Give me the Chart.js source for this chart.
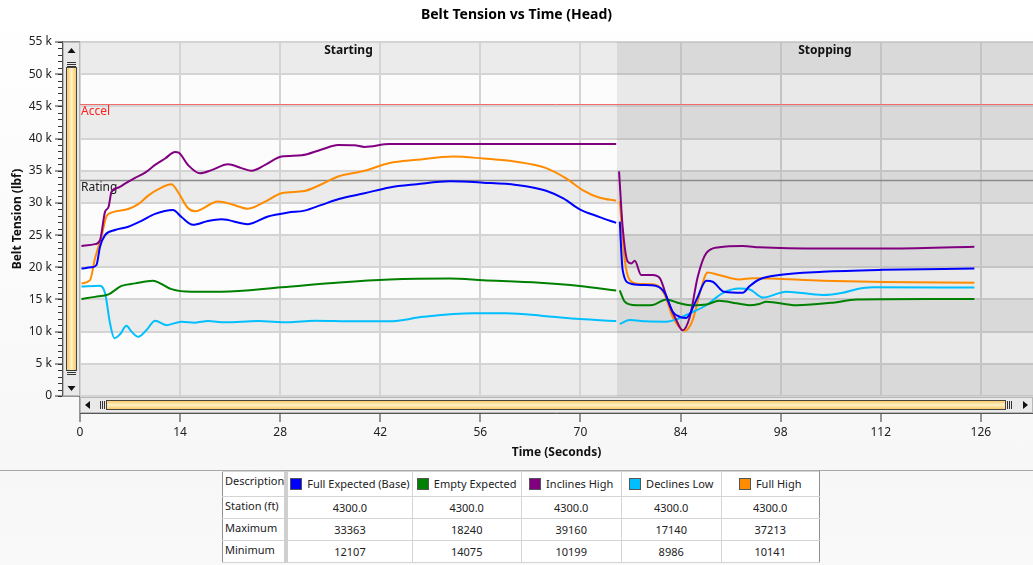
<!DOCTYPE html>
<html>
<head>
<meta charset="utf-8">
<script src="https://cdn.jsdelivr.net/npm/chart.js@4.4.1/dist/chart.umd.min.js"></script>
<style>
  body { margin: 0; background: #f9f9f9; font-family: "Noto Sans", sans-serif; }
  #wrap { position: relative; width: 1033px; height: 565px; overflow: hidden;
          background: linear-gradient(#ffffff, #f7f7f7 470px, #f9f9f9); }
  #chartBelt { position: absolute; left: 0; top: 0; }
  #sep { position: absolute; left: 0; top: 470px; width: 1033px; height: 1px; background: #a8a8a8; }
  #stats { position: absolute; left: 222px; top: 471px; border-collapse: collapse; table-layout: fixed;
           font-size: 11px; line-height: 14px; color: #222; background: #fff; }
  #stats td { border: 1px solid #d4d4d4; text-align: center; padding: 0; height: 21px; white-space: nowrap; overflow: hidden; }
  #stats tr:first-child td { height: 24px; }
  #stats td.desc { text-align: left; vertical-align: top; padding: 2px 0 0 2px; height: 19px; border-right: 4px solid #cfcfcf; border-left: 1px solid #909090; }
  #stats tr:first-child td.desc { height: 22px; }
  #stats td.last { border-right: 1px solid #909090; }
  .sw { display: inline-block; width: 10px; height: 10px; border: 1px solid #555; margin-right: 5px; vertical-align: -2px; }
</style>
</head>
<body>
<div id="wrap">
  <canvas id="chartBelt" width="1033" height="470"></canvas>
  <div id="sep"></div>
  <table id="stats"></table>
</div>
<script>
// datos (tiempo en s, tensión en lbf)
const seriesNames = ["Full Expected (Base)", "Empty Expected", "Inclines High", "Declines Low", "Full High"];
const seriesColors = ["#0000ff", "#008000", "#800080", "#00bfff", "#ff8c00"];

const fullExpectedTime = [0.2, 1.6, 2.3, 2.8, 3.5, 4.9, 6.75, 8.6, 10.5, 13.0, 14.2, 15.8, 17.9, 19.8, 23.5, 26.3, 29.1, 31.4, 33.8, 36.2, 39.8, 43.3, 47.1, 51.7, 56.4, 61.0, 65.2, 67.6, 69.9, 72.7, 75.0,
  75.25,
  75.5, 75.9, 76.9, 78.7, 80.6, 81.8, 82.9, 83.9, 84.8, 86.2, 87.6, 88.5, 90.1, 92.7, 93.6, 95.0, 97.8, 103.9, 112.3, 125.1];
const fullExpectedTension = [19800, 20000, 20350, 23200, 25000, 25800, 26300, 27200, 28300, 28900, 27800, 26600, 27200, 27450, 26700, 27900, 28500, 28800, 29700, 30600, 31500, 32400, 32900, 33363, 33150, 32800, 31900, 30700, 29000, 27800, 26900,
  null,
  27100, 19600, 17500, 17250, 17100, 16000, 13100, 12300, 12107, 14900, 17900, 17750, 16200, 16050, 17000, 18100, 18800, 19300, 19600, 19800];

const emptyExpectedTime = [0.2, 2.1, 4.0, 5.8, 7.7, 10.2, 11.4, 12.8, 15.6, 19.8, 28.2, 36.3, 43.3, 51.7, 56.4, 64.3, 69.9, 75.0,
  75.25,
  75.5, 76.2, 77.8, 80.1, 82.0, 83.9, 85.7, 87.6, 89.4, 91.8, 93.6, 95.0, 96.0, 100.2, 105.3, 108.6, 112.3, 125.1];
const emptyExpectedTension = [15070, 15400, 15800, 17100, 17500, 17900, 17400, 16600, 16200, 16200, 16900, 17650, 18100, 18240, 18000, 17600, 17100, 16400,
  null,
  16400, 14650, 14100, 14150, 15000, 14400, 14075, 14200, 14800, 14400, 14100, 14300, 14650, 14100, 14500, 15000, 15050, 15070];

const inclinesHighTime = [0.2, 2.1, 2.8, 3.5, 4.0, 4.4, 5.4, 6.3, 7.7, 9.1, 10.5, 11.9, 13.3, 13.8, 15.1, 16.8, 18.4, 20.7, 22.6, 24.0, 25.9, 28.2, 31.0, 33.8, 36.1, 38.4, 39.8, 43.3, 50.3, 60.0, 75.0,
  75.2,
  75.4, 75.9, 76.6, 77.1, 77.6, 78.5, 80.1, 81.1, 82.2, 83.4, 84.3, 85.3, 86.4, 87.6, 89.4, 92.7, 95.0, 103.9, 112.3, 125.1];
const inclinesHighTension = [23300, 23600, 24200, 28600, 29400, 31700, 32400, 33000, 33900, 34700, 35900, 36900, 37900, 37800, 35900, 34600, 35100, 36000, 35400, 35000, 35900, 37200, 37400, 38300, 39000, 38950, 38700, 39150, 39150, 39160, 39160,
  null,
  34900, 26300, 20900, 20600, 21000, 18800, 18800, 18300, 14900, 11800, 10199, 12300, 18500, 22200, 23100, 23300, 23100, 22900, 22900, 23200];

const declinesLowTime = [0.2, 2.8, 3.5, 4.2, 4.8, 5.6, 6.5, 7.2, 8.15, 9.3, 10.5, 12.1, 14.2, 16.1, 17.9, 20.3, 24.9, 29.1, 32.8, 38.4, 43.3, 48.0, 55.0, 59.6, 65.2, 69.9, 75.0,
  75.25,
  75.5, 76.9, 79.2, 82.0, 83.4, 85.3, 87.6, 89.9, 92.2, 93.6, 95.5, 98.8, 103.9, 106.7, 108.6, 110.9, 125.1];
const declinesLowTension = [17000, 17140, 16000, 11300, 8986, 9600, 10900, 10000, 9200, 10250, 11700, 11000, 11550, 11400, 11650, 11450, 11650, 11450, 11700, 11600, 11600, 12300, 12850, 12850, 12400, 11950, 11650,
  null,
  11200, 11800, 11600, 11550, 11900, 12850, 14100, 16000, 16700, 16600, 15300, 16200, 15700, 16050, 16600, 16900, 16850];

const fullHighTime = [0.2, 1.4, 2.1, 3.0, 3.7, 4.4, 6.75, 8.15, 9.5, 10.9, 12.8, 13.7, 15.1, 16.1, 19.3, 21.2, 23.5, 25.9, 28.2, 31.4, 33.8, 36.1, 39.8, 43.3, 47.1, 52.2, 56.4, 61.0, 65.2, 68.0, 70.3, 72.7, 75.0,
  75.25,
  75.5, 76.2, 76.9, 78.3, 80.6, 81.8, 82.9, 84.6, 85.7, 86.7, 87.8, 89.4, 92.2, 94.1, 103.9, 112.3, 125.1];
const fullHighTension = [17500, 18000, 21400, 24750, 27900, 28500, 29050, 29800, 31100, 32100, 32900, 31700, 29200, 28700, 30200, 29800, 29100, 30200, 31500, 31850, 32900, 34100, 35000, 36200, 36700, 37213, 36900, 36400, 35400, 33800, 32000, 30800, 30350,
  null,
  30300, 21100, 18000, 17400, 17250, 15700, 12300, 10141, 11800, 16000, 19200, 18800, 18100, 18300, 17900, 17700, 17600];

// líneas de referencia
const limitLabels = ["Accel", "Rating"];
const limitValues = [45300, 33550];
const limitColors = ["#f26b6b", "#8a8a8a"];
const limitTextColors = ["#ff2020", "#202020"];

// fases
const phaseLabels = ["Starting", "Stopping"];
const phaseBounds = [0, 75.1, 133.3];

// tabla
const rowLabels = ["Station (ft)", "Maximum", "Minimum"];
const stations = ["4300.0", "4300.0", "4300.0", "4300.0", "4300.0"];
const maxima = [33363, 18240, 39160, 17140, 37213];
const minima = [12107, 14075, 10199, 8986, 10141];

const xTicks = [0, 14, 28, 42, 56, 70, 84, 98, 112, 126];

Chart.defaults.font.family = '"Noto Sans", sans-serif';
Chart.defaults.font.size = 12;
Chart.defaults.color = "#222";

const allTimes = [fullExpectedTime, emptyExpectedTime, inclinesHighTime, declinesLowTime, fullHighTime];
const allTensions = [fullExpectedTension, emptyExpectedTension, inclinesHighTension, declinesLowTension, fullHighTension];

let datasets = seriesNames.map((name, i) => {
    return {
        label: name,
        data: allTimes[i].map((t, j) => ({x: t, y: allTensions[i][j]})),
        borderColor: seriesColors[i],
        backgroundColor: seriesColors[i],
        borderWidth: 2,
        pointRadius: 0,
        cubicInterpolationMode: "monotone",
        spanGaps: false,
    };
});

// fondo en bandas, líneas de referencia y barras de desplazamiento
const decor = {
    id: "decor",
    beforeDraw(chart) {
        const {ctx, chartArea: a, scales: {x, y}} = chart;
        ctx.save();
        for (let v = 0; v < 55000; v += 5000) {
            const top = y.getPixelForValue(v + 5000), bot = y.getPixelForValue(v);
            ctx.fillStyle = (v / 5000) % 2 === 0 ? "#ebebeb" : "#fcfcfc";
            ctx.fillRect(a.left, top, a.right - a.left, bot - top);
        }
        ctx.restore();
    },
    beforeDatasetsDraw(chart) {
        const {ctx, chartArea: a, scales: {x, y}} = chart;
        ctx.save();
        // sombreado de la fase de parada
        const xs = x.getPixelForValue(phaseBounds[1]);
        ctx.fillStyle = "rgba(0,0,0,0.075)";
        ctx.fillRect(xs, a.top, a.right - xs, a.bottom - a.top);
        // etiquetas de fase
        ctx.fillStyle = "#111";
        ctx.font = 'bold 12px "Noto Sans", sans-serif';
        ctx.textAlign = "center";
        ctx.textBaseline = "middle";
        phaseLabels.forEach((lab, i) => {
            const cx = (x.getPixelForValue(phaseBounds[i]) + Math.min(a.right, x.getPixelForValue(phaseBounds[i + 1]))) / 2;
            ctx.fillText(lab, cx, a.top + 8.5);
        });
        // Accel / Rating
        ctx.font = '12px "Noto Sans", sans-serif';
        ctx.textAlign = "left";
        limitValues.forEach((v, i) => {
            const py = Math.round(y.getPixelForValue(v)) + 0.5;
            ctx.strokeStyle = limitColors[i];
            ctx.lineWidth = i === 0 ? 1 : 1.5;
            ctx.beginPath();
            ctx.moveTo(a.left, py);
            ctx.lineTo(a.right, py);
            ctx.stroke();
            ctx.fillStyle = limitTextColors[i];
            ctx.fillText(limitLabels[i], a.left + 1, py + 7);
        });
        ctx.restore();
    },
    afterDraw(chart) {
        const {ctx, chartArea: a, scales: {x, y}} = chart;
        ctx.save();
        // marcas menores del eje y
        ctx.strokeStyle = "#333";
        ctx.lineWidth = 1;
        for (let v = 0; v <= 55000; v += 1000) {
            const py = Math.round(y.getPixelForValue(v)) + 0.5;
            ctx.beginPath();
            ctx.moveTo(58, py);
            ctx.lineTo(62, py);
            ctx.stroke();
        }
        // barra vertical
        const vx = 63, vw = a.left - 63;
        ctx.fillStyle = "#e9e9e9";
        ctx.fillRect(vx, a.top, vw, a.bottom - a.top);
        ctx.strokeStyle = "#b8b8b8";
        ctx.strokeRect(vx + 0.5, a.top + 0.5, vw - 1, a.bottom - a.top - 1);
        let g = ctx.createLinearGradient(vx + 3, 0, vx + vw - 3, 0);
        g.addColorStop(0, "#f6c14e");
        g.addColorStop(0.5, "#fff2c8");
        g.addColorStop(1, "#f6c14e");
        ctx.fillStyle = g;
        ctx.fillRect(vx + 4, a.top + 26, vw - 8, a.bottom - a.top - 52);
        ctx.strokeStyle = "#444";
        ctx.strokeRect(vx + 3.5, a.top + 25.5, vw - 7, a.bottom - a.top - 51);
        ctx.strokeStyle = "#333";
        for (let k = 0; k < 3; k++) {
            ctx.beginPath();
            ctx.moveTo(vx + 4, a.top + 20.5 + k * 2); ctx.lineTo(vx + vw - 4, a.top + 20.5 + k * 2);
            ctx.moveTo(vx + 4, a.bottom - 25.5 + k * 2); ctx.lineTo(vx + vw - 4, a.bottom - 25.5 + k * 2);
            ctx.stroke();
        }
        ctx.fillStyle = "#111";
        ctx.beginPath();
        ctx.moveTo(vx + vw / 2 - 4, a.top + 11); ctx.lineTo(vx + vw / 2 + 4, a.top + 11); ctx.lineTo(vx + vw / 2, a.top + 6); ctx.fill();
        ctx.beginPath();
        ctx.moveTo(vx + vw / 2 - 4, a.bottom - 10); ctx.lineTo(vx + vw / 2 + 4, a.bottom - 10); ctx.lineTo(vx + vw / 2, a.bottom - 5); ctx.fill();
        // barra horizontal
        const hy = a.bottom + 1, hh = 16;
        ctx.fillStyle = "#e9e9e9";
        ctx.fillRect(a.left, hy, a.right - a.left, hh);
        ctx.strokeStyle = "#b8b8b8";
        ctx.strokeRect(a.left + 0.5, hy + 0.5, a.right - a.left - 1, hh - 1);
        g = ctx.createLinearGradient(0, hy + 3, 0, hy + hh - 3);
        g.addColorStop(0, "#f6c14e");
        g.addColorStop(0.5, "#fff2c8");
        g.addColorStop(1, "#f6c14e");
        ctx.fillStyle = g;
        ctx.fillRect(a.left + 27, hy + 4, a.right - a.left - 55, hh - 8);
        ctx.strokeStyle = "#444";
        ctx.strokeRect(a.left + 26.5, hy + 3.5, a.right - a.left - 54, hh - 7);
        ctx.strokeStyle = "#333";
        for (let k = 0; k < 3; k++) {
            ctx.beginPath();
            ctx.moveTo(a.left + 20.5 + k * 2, hy + 4); ctx.lineTo(a.left + 20.5 + k * 2, hy + hh - 4);
            ctx.moveTo(a.right - 25.5 + k * 2, hy + 4); ctx.lineTo(a.right - 25.5 + k * 2, hy + hh - 4);
            ctx.stroke();
        }
        ctx.fillStyle = "#111";
        ctx.beginPath();
        ctx.moveTo(a.left + 10, hy + hh / 2 - 4); ctx.lineTo(a.left + 10, hy + hh / 2 + 4); ctx.lineTo(a.left + 5, hy + hh / 2); ctx.fill();
        ctx.beginPath();
        ctx.moveTo(a.right - 10, hy + hh / 2 - 4); ctx.lineTo(a.right - 10, hy + hh / 2 + 4); ctx.lineTo(a.right - 5, hy + hh / 2); ctx.fill();
        // líneas de ejes
        ctx.strokeStyle = "#555";
        ctx.lineWidth = 1;
        ctx.beginPath();
        ctx.moveTo(62.5, a.top - 1); ctx.lineTo(62.5, a.bottom);
        ctx.moveTo(a.left, hy + hh + 0.5); ctx.lineTo(a.right, hy + hh + 0.5);
        ctx.stroke();
        ctx.restore();
    }
};

new Chart(document.getElementById("chartBelt"), {
    type: "line",
    data: { datasets: datasets },
    plugins: [decor],
    options: {
        responsive: false,
        animation: false,
        layout: { padding: 0 },
        scales: {
            x: {
                type: "linear",
                min: 0,
                max: phaseBounds[2],
                afterFit: (s) => { s.height = 74; },
                afterBuildTicks: (s) => { s.ticks = xTicks.map((v) => ({value: v})); },
                ticks: { color: "#222", padding: 3, maxRotation: 0 },
                grid: { color: "#d4d4d4", lineWidth: 2, tickColor: "#333", tickWidth: 1, tickLength: 26 },
                border: { display: false },
                title: { display: true, text: "Time (Seconds)", color: "#111", font: { size: 12, weight: "bold" }, padding: { top: 0, bottom: 10 } },
            },
            y: {
                min: 0,
                max: 55000,
                afterFit: (s) => { s.width = 80; },
                ticks: { stepSize: 5000, color: "#222", padding: 3, callback: (v) => (v === 0 ? "0" : v / 1000 + " k") },
                grid: { color: "#d4d4d4", lineWidth: 2, tickColor: "#333", tickWidth: 1, tickLength: 25 },
                border: { display: false },
                title: { display: true, text: "Belt Tension (lbf)", color: "#111", font: { size: 12, weight: "bold" }, padding: { top: 10, bottom: 0 } },
            },
        },
        plugins: {
            legend: { display: false },
            tooltip: { enabled: false },
            title: {
                display: true,
                text: "Belt Tension vs Time (Head)",
                color: "#000",
                font: { size: 14, weight: "bold" },
                padding: { top: 7, bottom: 18.2 },
            },
        },
    },
});

// tabla de resumen
const table = document.getElementById("stats");
const widths = [63, 126, 109, 100, 100, 98];
let html = "<colgroup>" + widths.map((w) => '<col style="width:' + w + 'px">').join("") + "</colgroup>";
html += '<tr><td class="desc">Description</td>' + seriesNames.map((n, i) =>
    '<td' + (i === 4 ? ' class="last"' : "") + '><span class="sw" style="background:' + seriesColors[i] + '"></span>' + n + "</td>").join("") + "</tr>";
[stations, maxima, minima].forEach((row, r) => {
    html += '<tr><td class="desc">' + rowLabels[r] + "</td>" + row.map((v, i) => "<td" + (i === 4 ? ' class="last"' : "") + ">" + v + "</td>").join("") + "</tr>";
});
table.innerHTML = html;
</script>
</body>
</html>
